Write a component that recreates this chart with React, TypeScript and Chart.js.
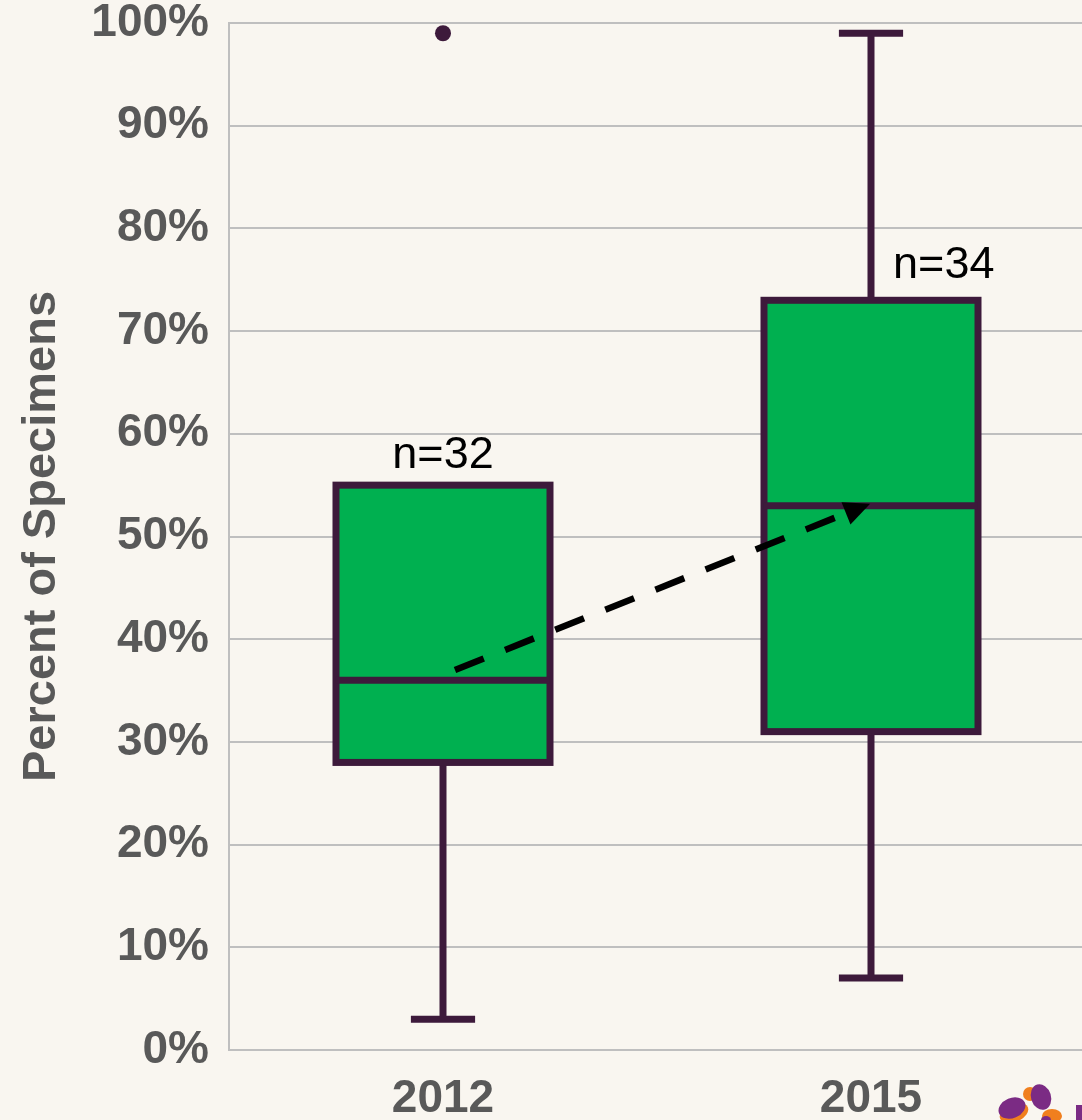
import React, { useEffect, useRef } from "react";
import { Chart, registerables } from "chart.js";

Chart.register(...registerables);

// ---- data ----
const categories = ["2012", "2015"];
const categoryPositions = [1, 2];
const whiskerLow = [3, 7];
const q1 = [28, 31];
const median = [36, 53];
const q3 = [55, 73];
const whiskerHigh = [55, 99];
const outlierValues = [[99], []];
const sampleLabels = ["n=32", "n=34"];
const sampleLabelX = [1.0, 2.17];
const sampleLabelY = [56.7, 75.2];
const trendFrom = [1.028, 37.0];
const trendTo = [1.998, 53.2];
const yTickValues = [0, 10, 20, 30, 40, 50, 60, 70, 80, 90, 100];

// ---- styles ----
const BG = "#f9f6f0";
const GREEN = "#00b050";
const EDGE = "#3d1a3b";
const GRID = "#bfbfbf";
const TEXT = "#595959";
const FONT = '"Liberation Sans", Arial, Helvetica, sans-serif';
const BOX_HALF = 0.25;
const CAP_HALF = 0.075;

const bgPlugin = {
  id: "bg",
  beforeDraw(chart: any) {
    const { ctx, width, height } = chart;
    ctx.save();
    ctx.fillStyle = BG;
    ctx.fillRect(0, 0, width, height);
    ctx.restore();
  },
};

const boxPlugin = {
  id: "boxes",
  beforeDatasetsDraw(chart: any) {
    const { ctx } = chart;
    const x = chart.scales.x;
    const y = chart.scales.y;
    ctx.save();
    ctx.lineWidth = 7;
    ctx.strokeStyle = EDGE;
    ctx.lineCap = "butt";
    categoryPositions.forEach((pos, i) => {
      const cx = x.getPixelForValue(pos);
      const l = x.getPixelForValue(pos - BOX_HALF);
      const r = x.getPixelForValue(pos + BOX_HALF);
      const cl = x.getPixelForValue(pos - CAP_HALF);
      const cr = x.getPixelForValue(pos + CAP_HALF);
      const yq1 = y.getPixelForValue(q1[i]);
      const yq3 = y.getPixelForValue(q3[i]);
      const ymed = y.getPixelForValue(median[i]);
      const ylo = y.getPixelForValue(whiskerLow[i]);
      const yhi = y.getPixelForValue(whiskerHigh[i]);
      // whiskers
      ctx.beginPath();
      ctx.moveTo(cx, yq1);
      ctx.lineTo(cx, ylo);
      ctx.moveTo(cl, ylo);
      ctx.lineTo(cr, ylo);
      if (whiskerHigh[i] > q3[i]) {
        ctx.moveTo(cx, yq3);
        ctx.lineTo(cx, yhi);
        ctx.moveTo(cl, yhi);
        ctx.lineTo(cr, yhi);
      }
      ctx.stroke();
      // box
      ctx.fillStyle = GREEN;
      ctx.fillRect(l, yq3, r - l, yq1 - yq3);
      ctx.strokeRect(l, yq3, r - l, yq1 - yq3);
      // median
      ctx.beginPath();
      ctx.moveTo(l, ymed);
      ctx.lineTo(r, ymed);
      ctx.stroke();
    });
    ctx.restore();
  },
  afterDatasetsDraw(chart: any) {
    const { ctx } = chart;
    const x = chart.scales.x;
    const y = chart.scales.y;
    ctx.save();
    // sample size labels
    ctx.fillStyle = "#000000";
    ctx.font = `45px ${FONT}`;
    ctx.textAlign = "center";
    ctx.textBaseline = "alphabetic";
    sampleLabels.forEach((t, i) => {
      ctx.fillText(t, x.getPixelForValue(sampleLabelX[i]), y.getPixelForValue(sampleLabelY[i]));
    });
    // trend arrow
    const x0 = x.getPixelForValue(trendFrom[0]);
    const y0 = y.getPixelForValue(trendFrom[1]);
    const x1 = x.getPixelForValue(trendTo[0]);
    const y1 = y.getPixelForValue(trendTo[1]);
    const ang = Math.atan2(y1 - y0, x1 - x0);
    const headLen = 26;
    const headHalf = 12;
    const bx = x1 - headLen * Math.cos(ang);
    const by = y1 - headLen * Math.sin(ang);
    ctx.strokeStyle = "#000000";
    ctx.lineWidth = 6.5;
    ctx.setLineDash([31, 23]);
    ctx.beginPath();
    ctx.moveTo(x0, y0);
    ctx.lineTo(bx, by);
    ctx.stroke();
    ctx.setLineDash([]);
    ctx.fillStyle = "#000000";
    ctx.beginPath();
    ctx.moveTo(x1, y1);
    ctx.lineTo(bx + headHalf * Math.sin(ang), by - headHalf * Math.cos(ang));
    ctx.lineTo(bx - headHalf * Math.sin(ang), by + headHalf * Math.cos(ang));
    ctx.closePath();
    ctx.fill();
    ctx.restore();
  },
  afterDraw(chart: any) {
    // partial logo in the bottom-right corner
    const { ctx } = chart;
    ctx.save();
    const blob = (cx: number, cy: number, rx: number, ry: number, rot: number, c: string) => {
      ctx.fillStyle = c;
      ctx.beginPath();
      ctx.ellipse(cx, cy, rx, ry, rot, 0, Math.PI * 2);
      ctx.fill();
    };
    blob(1014, 1113, 15, 9, -0.4, "#f07f1e");
    blob(1030, 1094, 7, 7, 0, "#f07f1e");
    blob(1052, 1116, 10, 7, 0, "#f07f1e");
    blob(1012, 1108, 14, 10, -0.4, "#7b2b84");
    blob(1041, 1097, 10, 13, -0.3, "#7b2b84");
    blob(1046, 1120, 5, 4, 0, "#7b2b84");
    ctx.fillStyle = "#7b2b84";
    ctx.fillRect(1076, 1105, 6, 15);
    ctx.restore();
  },
};

export default function App() {
  const ref = useRef<HTMLCanvasElement | null>(null);
  useEffect(() => {
    if (!ref.current) return;
    const chart = new Chart(ref.current, {
      type: "scatter",
      data: {
        datasets: [
          {
            label: "Outliers",
            data: outlierValues.flatMap((vals, i) =>
              vals.map((v) => ({ x: categoryPositions[i], y: v }))
            ),
            pointRadius: 8,
            pointHoverRadius: 8,
            backgroundColor: EDGE,
            borderColor: EDGE,
            borderWidth: 0,
          },
        ],
      },
      options: {
        animation: false,
        responsive: false,
        maintainAspectRatio: false,
        events: [],
        layout: { padding: { top: 23, right: 0, bottom: 0, left: 0 } },
        plugins: {
          legend: { display: false },
          tooltip: { enabled: false },
          title: { display: false },
        },
        scales: {
          x: {
            type: "linear",
            min: 0.5,
            max: 2.493,
            grid: { display: false },
            border: { display: false },
            afterBuildTicks: (scale: any) => {
              scale.ticks = categoryPositions.map((v) => ({ value: v }));
            },
            afterFit: (scale: any) => {
              scale.height = 70;
              scale.paddingLeft = 0;
              scale.paddingRight = 0;
            },
            ticks: {
              autoSkip: false,
              maxRotation: 0,
              padding: 18,
              color: TEXT,
              font: { family: FONT, size: 46, weight: "bold", lineHeight: 1 },
              callback: (v: any) => {
                const idx = categoryPositions.indexOf(Number(v));
                return idx >= 0 ? categories[idx] : "";
              },
            },
          },
          y: {
            type: "linear",
            min: 0,
            max: 100,
            afterBuildTicks: (scale: any) => {
              scale.ticks = yTickValues.map((v) => ({ value: v }));
            },
            afterFit: (scale: any) => {
              scale.width = 229;
              scale.paddingTop = 0;
              scale.paddingBottom = 0;
            },
            grid: { color: GRID, lineWidth: 2, drawTicks: false },
            border: { display: true, color: GRID, width: 2 },
            ticks: {
              autoSkip: false,
              padding: 20,
              color: TEXT,
              font: { family: FONT, size: 46, weight: "bold", lineHeight: 1 },
              callback: (v: any) => `${v}%`,
            },
            title: {
              display: true,
              text: "Percent of Specimens",
              color: TEXT,
              font: { family: FONT, size: 47, weight: "bold", lineHeight: 1 },
              padding: { top: 19, bottom: 0 },
            },
          },
        },
      },
      plugins: [bgPlugin, boxPlugin],
    } as any);
    return () => chart.destroy();
  }, []);

  return (
    <div
      style={{
        position: "fixed",
        left: 0,
        top: 0,
        width: 1082,
        height: 1120,
        overflow: "hidden",
        background: BG,
      }}
    >
      <canvas ref={ref} width={1090} height={1120} style={{ display: "block" }} />
    </div>
  );
}
